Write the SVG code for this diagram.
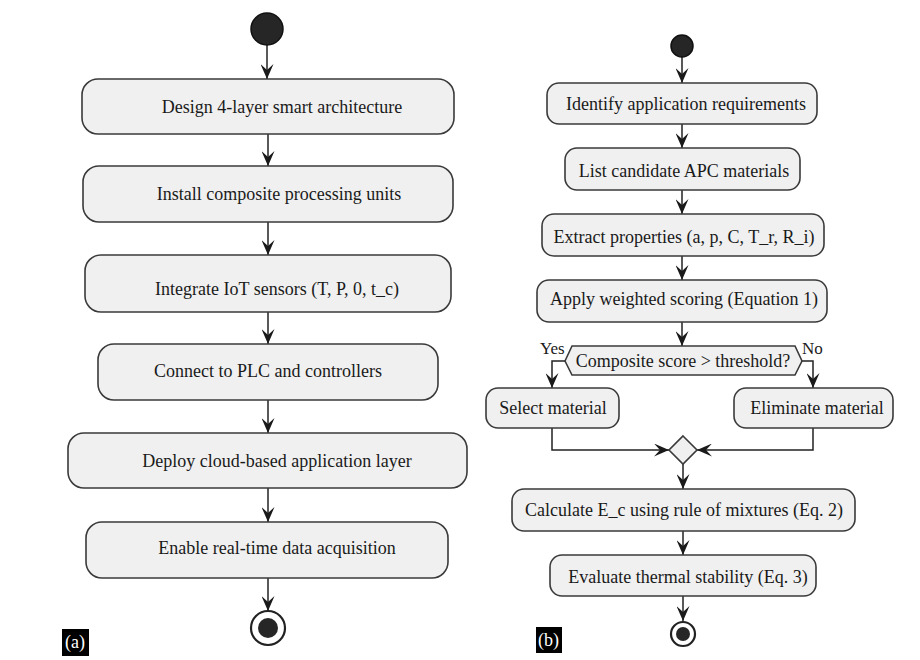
<svg xmlns="http://www.w3.org/2000/svg" width="920" height="660" viewBox="0 0 920 660">
<style>
.box{fill:#f0f0f0;stroke:#3a3a3a;stroke-width:1.6}
.t{font-family:'Liberation Serif',Tinos,'Times New Roman','DejaVu Serif',serif;font-size:18px;fill:#1a1a1a;text-anchor:middle}
.lbl{font-family:'Liberation Serif',Tinos,'Times New Roman','DejaVu Serif',serif;font-size:17px;fill:#1a1a1a}
.edge{fill:none;stroke:#222;stroke-width:1.5}
.start{fill:#262626;stroke:#111;stroke-width:1.5}
.endo{fill:#fff;stroke:#222;stroke-width:2.2}
.endi{fill:#262626}
.tag{fill:#000}
.tagt{font-family:'Liberation Serif',Tinos,'Times New Roman','DejaVu Serif',serif;font-size:18px;fill:#fff}
</style>
<defs>
<marker id="ah" viewBox="0 0 15 13" refX="15" refY="6.5" markerWidth="15" markerHeight="13" markerUnits="userSpaceOnUse" orient="auto">
<path d="M0,0 L15,6.5 L0,13 L6,6.5 Z" fill="#1a1a1a"/>
</marker>
</defs>
<rect width="920" height="660" fill="#fff"/>

<g id="edges">
<path class="edge" marker-end="url(#ah)" d="M267,45 V79"/>
<path class="edge" marker-end="url(#ah)" d="M268,134 V166"/>
<path class="edge" marker-end="url(#ah)" d="M268,222 V255"/>
<path class="edge" marker-end="url(#ah)" d="M268,312 V344"/>
<path class="edge" marker-end="url(#ah)" d="M268,400 V433"/>
<path class="edge" marker-end="url(#ah)" d="M268,488 V522"/>
<path class="edge" marker-end="url(#ah)" d="M268,578 V611"/>

<path class="edge" marker-end="url(#ah)" d="M682,57 V83"/>
<path class="edge" marker-end="url(#ah)" d="M682,124 V148"/>
<path class="edge" marker-end="url(#ah)" d="M682,190 V214"/>
<path class="edge" marker-end="url(#ah)" d="M682,256 V280"/>
<path class="edge" marker-end="url(#ah)" d="M682,322 V346"/>
<path class="edge" marker-end="url(#ah)" d="M565,361 H552 V388"/>
<path class="edge" marker-end="url(#ah)" d="M802,361 H813 V388"/>
<path class="edge" marker-end="url(#ah)" d="M552,428 V450 H669"/>
<path class="edge" marker-end="url(#ah)" d="M813,428 V450 H697"/>
<path class="edge" marker-end="url(#ah)" d="M683,464 V489"/>
<path class="edge" marker-end="url(#ah)" d="M683,531 V555"/>
<path class="edge" marker-end="url(#ah)" d="M683,596 V621"/>
<text class="lbl" x="540" y="354">Yes</text>
<text class="lbl" x="802" y="354">No</text>
</g>

<g id="a_start"><circle class="start" cx="267" cy="29" r="16"/></g>
<g id="a1"><rect class="box" x="82" y="79" width="372" height="55" rx="16"/><text class="t" x="282" y="113">Design 4-layer smart architecture</text></g>
<g id="a2"><rect class="box" x="83" y="166" width="370" height="56" rx="16"/><text class="t" x="279" y="200">Install composite processing units</text></g>
<g id="a3"><rect class="box" x="85" y="255" width="366" height="57" rx="16"/><text class="t" x="277" y="295">Integrate IoT sensors (T, P, 0, t_c)</text></g>
<g id="a4"><rect class="box" x="98" y="344" width="340" height="56" rx="16"/><text class="t" x="268" y="377">Connect to PLC and controllers</text></g>
<g id="a5"><rect class="box" x="68" y="433" width="399" height="55" rx="16"/><text class="t" x="277" y="467">Deploy cloud-based application layer</text></g>
<g id="a6"><rect class="box" x="86" y="522" width="362" height="56" rx="16"/><text class="t" x="277" y="554">Enable real-time data acquisition</text></g>
<g id="a_end"><circle class="endo" cx="268" cy="628" r="17"/><circle class="endi" cx="268" cy="628" r="10"/></g>
<g id="a_tag"><rect class="tag" x="62" y="629" width="27" height="27"/><text class="tagt" x="65" y="648">(a)</text></g>

<g id="b_start"><circle class="start" cx="682" cy="46" r="11"/></g>
<g id="b1"><rect class="box" x="547" y="83" width="270" height="41" rx="12"/><text class="t" x="686" y="110">Identify application requirements</text></g>
<g id="b2"><rect class="box" x="565" y="148" width="235" height="42" rx="12"/><text class="t" x="684" y="177">List candidate APC materials</text></g>
<g id="b3"><rect class="box" x="542" y="214" width="282" height="42" rx="12"/><text class="t" x="684" y="243">Extract properties (a, p, C, T_r, R_i)</text></g>
<g id="b4"><rect class="box" x="537" y="280" width="290" height="42" rx="12"/><text class="t" x="684" y="305">Apply weighted scoring (Equation 1)</text></g>
<g id="b_dec"><polygon class="box" points="565,361 572,346 795,346 802,361 795,375 572,375"/><text class="t" x="683" y="367">Composite score &gt; threshold?</text></g>
<g id="b5"><rect class="box" x="486" y="388" width="133" height="40" rx="12"/><text class="t" x="553" y="414">Select material</text></g>
<g id="b6"><rect class="box" x="734" y="388" width="159" height="40" rx="12"/><text class="t" x="817" y="414">Eliminate material</text></g>
<g id="b_merge"><polygon class="box" points="683,436 697,450 683,464 669,450"/></g>
<g id="b7"><rect class="box" x="512" y="489" width="343" height="42" rx="12"/><text class="t" x="684" y="516">Calculate E_c using rule of mixtures (Eq. 2)</text></g>
<g id="b8"><rect class="box" x="550" y="555" width="266" height="41" rx="12"/><text class="t" x="688" y="583">Evaluate thermal stability (Eq. 3)</text></g>
<g id="b_end"><circle class="endo" cx="683" cy="634" r="12"/><circle class="endi" cx="683" cy="634" r="7"/></g>
<g id="b_tag"><rect class="tag" x="536" y="627" width="26" height="26"/><text class="tagt" x="538" y="646">(b)</text></g>
</svg>
